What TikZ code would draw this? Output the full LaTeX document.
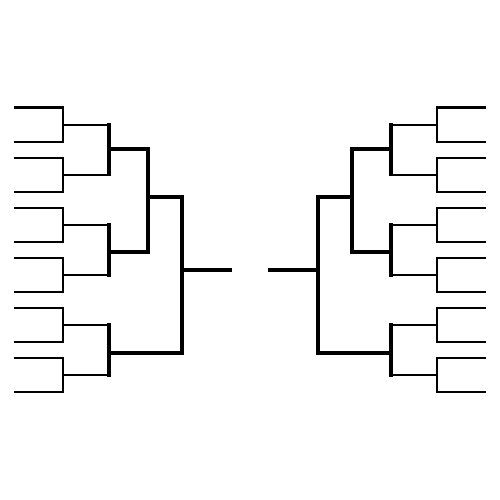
\documentclass[tikz,border=0pt]{standalone}
\usetikzlibrary{positioning}
\tikzset{
    thinline/.style={line width=2.2pt},
    midline/.style={line width=3.2pt},
    thickline/.style={line width=4pt},
  }

\begin{document}
\begin{tikzpicture}[x=1pt,y=-1pt,line cap=rect]
    \useasboundingbox (0,0) rectangle (500,500);
    % one half of the bracket, mirrored for the right side
    \foreach \xs/\sgn in {0/1, 500/-1} {
    \begin{scope}[xshift=\xs pt, xscale=\sgn]
        % first round pairs
        \foreach \k in {0,...,5} {
            \pgfmathsetmacro{\ya}{107.5+50.1*\k}
            \pgfmathsetmacro{\yb}{\ya+34.3}
            \pgfmathsetmacro{\ym}{\ya+17.15}
            \draw[thinline] (15,\ya) -- (63,\ya) -- (63,\yb) -- (15,\yb);
            \draw[thinline] (63,\ym) -- (109,\ym);
        }
        % second round
        \foreach \j in {0,1,2} {
            \pgfmathsetmacro{\ya}{124.65+100.2*\j}
            \pgfmathsetmacro{\yb}{\ya+50.1}
            \draw[midline] (109,\ya) -- (109,\yb);
        }
        % third round
        \coordinate (qa) at (109,148.5);
        \coordinate (qb) at (109,251.5);
        \coordinate (qc) at (109,353);
        \coordinate (sa) at (148,197);
        \coordinate (fin) at (182,270);
        \draw[thickline] (qa) -- (qa -| sa) -- (qb -| sa) -- (qb);
        \draw[thickline] (sa) -- (sa -| fin) -- (qc -| fin) -- (qc);
        \draw[thickline] (fin) -- ++(48,0);
    \end{scope}
    }
\end{tikzpicture}
\end{document}
